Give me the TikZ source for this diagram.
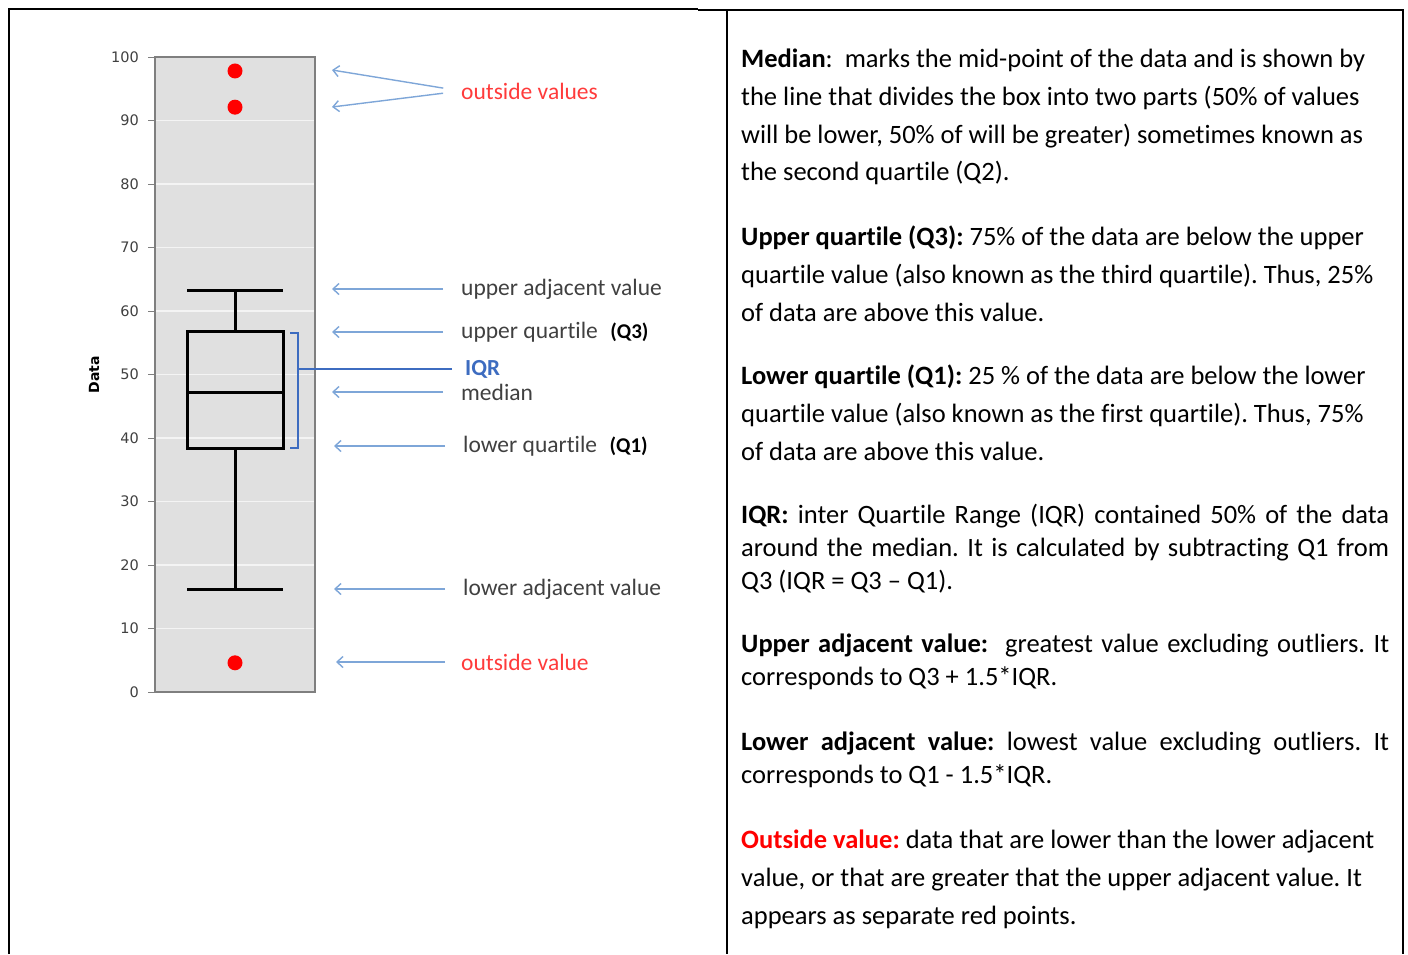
\documentclass[tikz,border=0pt]{standalone}
\usepackage{fontspec}
\setmainfont{Carlito}[Ligatures=CommonOff]
\newfontfamily\axisfont{DejaVu Sans}
\usepackage{xcolor}
\usetikzlibrary{positioning,arrows.meta,calc}
\definecolor{plotgray}{HTML}{E0E0E0}
\definecolor{gridwhite}{HTML}{F4F4F4}
\definecolor{framegray}{HTML}{7F7F7F}
\definecolor{pointblue}{HTML}{7EA6D8}
\definecolor{iqrblue}{HTML}{3D6CC0}
\definecolor{labelgray}{HTML}{404040}
\definecolor{outred}{HTML}{FF3B3B}
\newlength{\parw}\setlength{\parw}{648pt}
\newcommand{\jline}[1]{\makebox[\parw][s]{#1}}
\frenchspacing
\tikzset{
  ptr/.style={-{Straight Barb[length=6pt,width=11pt]},draw=pointblue,line width=1.4pt},
  lbl/.style={anchor=west,inner sep=0pt,text=labelgray,font=\fontsize{23.5}{26}\selectfont},
  qlbl/.style={inner sep=0pt,font=\bfseries\fontsize{21}{24}\selectfont},
  ticklbl/.style={anchor=east,inner sep=0pt,text=labelgray,font=\axisfont\fontsize{14.5}{16}\selectfont},
  defn/.style={anchor=north west,inner sep=0pt,align=left,font=\fontsize{26.5}{37.6}\selectfont},
  defnx/.style={defn,font=\fontsize{26.5}{32.8}\selectfont},
  whisk/.style={line width=3pt,black},
  outlier/.style={circle,fill=red,inner sep=0pt,minimum size=15pt},
  iqrline/.style={draw=iqrblue,line width=2pt},
  rule/.style={line width=2pt,black},
}

\begin{document}
\begin{tikzpicture}[x=1pt,y=-1pt]
\useasboundingbox (0,0) rectangle (1408,954);
% table frame
\draw[rule] (9,954) -- (9,9) -- (698,9);
\draw[rule] (698,10) -- (1403,10) -- (1403,954);
\draw[rule] (727,10) -- (727,954);

% the box plot, in data units
\begin{scope}[shift={(0,692)},y=6.35pt]
  \fill[plotgray] (155,0) rectangle (315,100);
  \foreach \v in {10,20,...,90}
    \draw[gridwhite,line width=1.5pt] (155,\v) -- (315,\v);
  \draw[framegray,line width=1.5pt] (155,0) rectangle (315,100);
  \foreach \v in {0,10,...,100} {
    \draw[framegray,line width=1pt] (148,\v) -- (155,\v);
    \node[ticklbl] (tk\v) at (139,\v) {\v};
  }
  \draw[whisk] (187,63.3) -- (283,63.3);
  \draw[whisk] (235,63.3) -- (235,56.7);
  \draw[whisk] (187,38.4) rectangle (283,56.7);
  \draw[whisk] (187,47.1) -- (283,47.1);
  \draw[whisk] (235,38.4) -- (235,16.2);
  \draw[whisk] (187,16.2) -- (283,16.2);
  \node[outlier] (ptA) at (235,97.8) {};
  \node[outlier] (ptB) at (235,92.1) {};
  \node[outlier] (ptC) at (235,4.6) {};
\end{scope}
\node[rotate=90,font=\axisfont\bfseries\fontsize{14}{16}\selectfont] (ylab) at (94,375) {Data};

% labels
\node[lbl,text=outred] (lOutv) at (461,91) {outside values};
\node[lbl] (lUAV) at (461,289) {upper adjacent value};
\node[lbl] (lUQ) at (461,332) {upper quartile};
\node[qlbl,right=12pt of lUQ] (lQ3) {(Q3)};
\node[lbl,text=iqrblue,font=\bfseries\fontsize{23}{26}\selectfont] (lIQR) at (465,369) {IQR};
\node[lbl] (lMed) at (461,392) {median};
\node[lbl] (lLQ) at (463,446) {lower quartile};
\node[qlbl,right=12pt of lLQ] (lQ1) {(Q1)};
\node[lbl] (lLAV) at (463,589) {lower adjacent value};
\node[lbl,text=outred] (lOut) at (461,662) {outside value};

% pointers
\coordinate (tOutA) at (332,70);
\coordinate (tOutB) at (332,107);
\coordinate (tUAV) at (332,289);
\coordinate (tUQ) at (332,332);
\coordinate (tMed) at (332,392);
\coordinate (tLQ) at (334,446);
\coordinate (tLAV) at (334,589);
\coordinate (tOut) at (336,662);
\draw[ptr,shorten <=18pt] (lOutv.west) -- (tOutA);
\draw[ptr,shorten <=18pt] (lOutv.west) -- (tOutB);
\draw[ptr,shorten <=18pt] (lUAV.west) -- (tUAV);
\draw[ptr,shorten <=18pt] (lUQ.west) -- (tUQ);
\draw[ptr,shorten <=18pt] (lMed.west) -- (tMed);
\draw[ptr,shorten <=18pt] (lLQ.west) -- (tLQ);
\draw[ptr,shorten <=18pt] (lLAV.west) -- (tLAV);
\draw[ptr,shorten <=16pt] (lOut.west) -- (tOut);

% IQR bracket
\coordinate (brk) at (298,369);
\draw[iqrline] (290,333) -- (298,333) -- (298,448) -- (290,448);
\draw[iqrline,shorten <=13pt] (lIQR.west) -- (brk);

% definitions
\node[defn] (dMed) at (741,49) {\textbf{Median}:~ marks the mid-point of the data and is shown by\\
  the line that divides the box into two parts (50\% of values\\
  will be lower, 50\% of will be greater) sometimes known as\\
  the second quartile (Q2).};
\node[defn] (dUQ) at (741,226) {\textbf{Upper quartile (Q3):} 75\% of the data are below the upper\\
  quartile value (also known as the third quartile). Thus, 25\%\\
  of data are above this value.};
\node[defn] (dLQ) at (741,365) {\textbf{Lower quartile (Q1):} 25 \% of the data are below the lower\\
  quartile value (also known as the first quartile). Thus, 75\%\\
  of data are above this value.};
\node[defnx] (dIQR) at (741,504) {\jline{\textbf{IQR:} inter Quartile Range (IQR) contained 50\% of the data}\\
  \jline{around the median. It is calculated by subtracting Q1 from}\\
  Q3 (IQR = Q3 -- Q1).};
\node[defnx] (dUAV) at (741,634) {\jline{\textbf{Upper adjacent value:}~ greatest value excluding outliers. It}\\
  corresponds to Q3 + 1.5*IQR.};
\node[defnx] (dLAV) at (741,732) {\jline{\textbf{Lower adjacent value:} lowest value excluding outliers. It}\\
  corresponds to Q1 - 1.5*IQR.};
\node[defn] (dOut) at (741,830) {\textcolor{red}{\textbf{Outside value:}} data that are lower than the lower adjacent\\
  value, or that are greater that the upper adjacent value. It\\
  appears as separate red points.};
\end{tikzpicture}
\end{document}
